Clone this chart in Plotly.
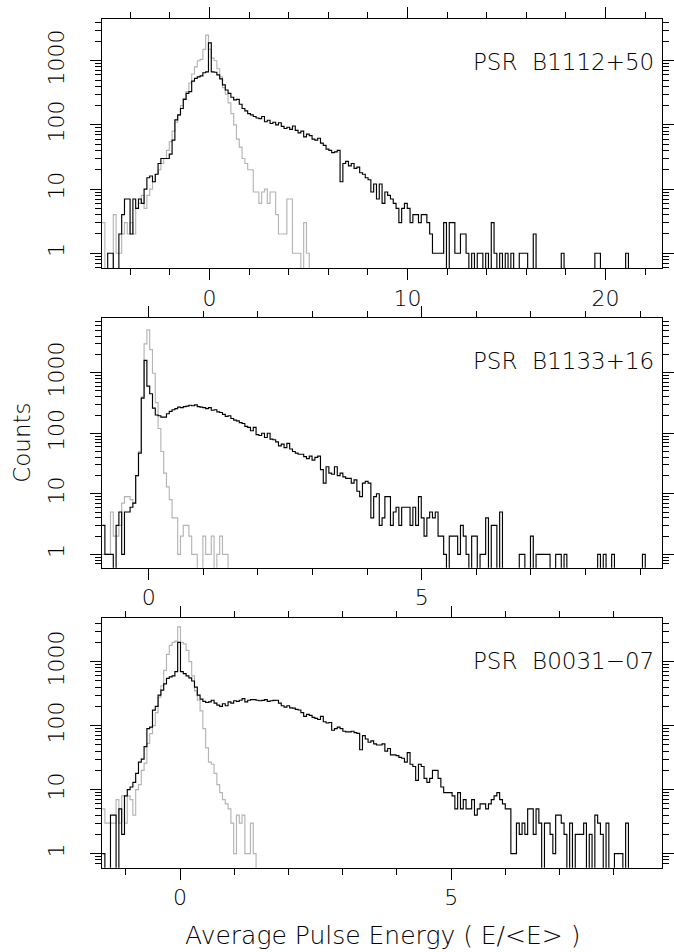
import plotly.graph_objects as go

# ---------------- data (counts per bin, 200 bins per panel) ----------------
P1_START, P1_STOP = -5.42, 22.85
P2_START, P2_STOP = -0.853, 9.40
P3_START, P3_STOP = -1.439, 8.89

p1_black = [0, 0, 1, 1, 0, 0, 2, 4, 7, 7, 2, 7, 5, 7, 6, 10, 15, 16, 13, 17,
            25, 30, 30, 30, 35, 58, 120, 143, 180, 250, 310, 330, 480, 530, 560, 580, 650, 670, 1900, 670,
            660, 600, 520, 420, 350, 310, 270, 245, 250, 210, 180, 165, 150, 143, 135, 128, 125, 135, 112, 118,
            105, 110, 100, 108, 95, 88, 92, 85, 96, 82, 75, 80, 65, 72, 68, 60, 58, 62, 52, 48,
            42, 40, 37, 38, 40, 13, 25, 27, 23, 25, 21, 22, 18, 17, 15, 14, 9, 12, 7, 12,
            6, 9, 8, 7, 6, 5, 3, 5, 6, 5, 3, 4, 4, 3, 4, 4, 3, 2, 1, 1,
            1, 1, 3, 0, 3, 3, 1, 1, 2, 2, 1, 0, 1, 0, 1, 1, 0, 1, 0, 3,
            1, 0, 1, 0, 1, 0, 1, 0, 0, 1, 1, 1, 0, 0, 2, 0, 0, 0, 0, 0,
            0, 0, 0, 0, 1, 0, 0, 0, 0, 0, 0, 0, 0, 0, 0, 0, 1, 1, 0, 0,
            0, 0, 0, 0, 0, 0, 0, 1, 0, 0, 0, 0, 0, 0, 0, 0, 0, 0, 0, 0]
p1_gray = [3, 0, 0, 0, 4, 1, 1, 2, 3, 2, 3, 2, 5, 6, 8, 5, 8, 10, 13, 17,
           20, 25, 30, 40, 55, 80, 110, 140, 200, 260, 330, 450, 620, 800, 1000, 1050, 1500, 2500, 1500, 1100,
           1000, 750, 560, 380, 300, 220, 150, 100, 60, 45, 30, 25, 20, 20, 9, 9, 6, 9, 10, 6,
           9, 9, 4, 2, 2, 2, 7, 7, 1, 1, 1, 0, 3, 1, 0, 0, 0, 0, 0, 0,
           0, 0, 0, 0, 0, 0, 0, 0, 0, 0, 0, 0, 0, 0, 0, 0, 0, 0, 0, 0,
           0, 0, 0, 0, 0, 0, 0, 0, 0, 0, 0, 0, 0, 0, 0, 0, 0, 0, 0, 0,
           0, 0, 0, 0, 0, 0, 0, 0, 0, 0, 0, 0, 0, 0, 0, 0, 0, 0, 0, 0,
           0, 0, 0, 0, 0, 0, 0, 0, 0, 0, 0, 0, 0, 0, 0, 0, 0, 0, 0, 0,
           0, 0, 0, 0, 0, 0, 0, 0, 0, 0, 0, 0, 0, 0, 0, 0, 0, 0, 0, 0,
           0, 0, 0, 0, 0, 0, 0, 0, 0, 0, 0, 0, 0, 0, 0, 0, 0, 0, 0, 0]

p2_black = [3, 1, 1, 1, 0, 3, 5, 1, 5, 5, 6, 7, 20, 47, 380, 1600, 600, 450, 260, 200,
            195, 185, 185, 210, 230, 245, 255, 270, 265, 275, 280, 290, 285, 295, 275, 270, 265, 255, 265, 240,
            245, 225, 220, 205, 190, 195, 175, 165, 160, 150, 145, 130, 125, 110, 125, 95, 92, 100, 85, 100,
            80, 78, 72, 62, 66, 58, 68, 55, 50, 47, 45, 45, 41, 38, 42, 36, 40, 42, 25, 15,
            28, 22, 21, 28, 20, 22, 19, 18, 18, 15, 17, 11, 9, 15, 16, 15, 4, 9, 10, 3,
            4, 9, 9, 3, 5, 6, 3, 6, 6, 6, 3, 6, 3, 9, 4, 2, 4, 5, 4, 5,
            2, 2, 1, 0, 2, 2, 2, 1, 3, 2, 1, 0, 2, 2, 0, 1, 1, 4, 0, 3,
            3, 0, 5, 0, 0, 0, 0, 0, 0, 1, 1, 0, 0, 2, 0, 1, 1, 1, 1, 1,
            0, 0, 1, 1, 0, 1, 0, 0, 0, 0, 0, 0, 0, 0, 0, 0, 0, 1, 0, 1,
            0, 0, 1, 0, 0, 0, 0, 0, 0, 0, 0, 0, 0, 1, 0, 0, 0, 0, 0, 0]
p2_gray = [1, 1, 1, 5, 2, 2, 3, 7, 9, 9, 8, 7, 20, 50, 400, 3000, 5100, 2400, 980, 320,
           120, 50, 22, 13, 8, 4, 4, 1, 2, 3, 3, 2, 1, 1, 0, 0, 2, 1, 1, 2,
           0, 1, 2, 1, 1, 0, 0, 0, 0, 0, 0, 0, 0, 0, 0, 0, 0, 0, 0, 0,
           0, 0, 0, 0, 0, 0, 0, 0, 0, 0, 0, 0, 0, 0, 0, 0, 0, 0, 0, 0,
           0, 0, 0, 0, 0, 0, 0, 0, 0, 0, 0, 0, 0, 0, 0, 0, 0, 0, 0, 0,
           0, 0, 0, 0, 0, 0, 0, 0, 0, 0, 0, 0, 0, 0, 0, 0, 0, 0, 0, 0,
           0, 0, 0, 0, 0, 0, 0, 0, 0, 0, 0, 0, 0, 0, 0, 0, 0, 0, 0, 0,
           0, 0, 0, 0, 0, 0, 0, 0, 0, 0, 0, 0, 0, 0, 0, 0, 0, 0, 0, 0,
           0, 0, 0, 0, 0, 0, 0, 0, 0, 0, 0, 0, 0, 0, 0, 0, 0, 0, 0, 0,
           0, 0, 0, 0, 0, 0, 0, 0, 0, 0, 0, 0, 0, 0, 0, 0, 0, 0, 0, 0]

p3_black = [1, 0, 0, 4, 4, 0, 5, 2, 8, 10, 11, 13, 18, 27, 30, 47, 90, 95, 175, 200,
            300, 360, 450, 550, 580, 600, 700, 2000, 700, 650, 600, 560, 500, 400, 300, 260, 240, 230, 235, 250,
            225, 210, 200, 220, 205, 235, 225, 245, 240, 250, 265, 235, 250, 255, 255, 250, 245, 248, 255, 240,
            245, 248, 250, 225, 205, 195, 205, 190, 188, 180, 176, 160, 140, 150, 145, 135, 130, 125, 140, 115,
            110, 112, 85, 90, 95, 90, 82, 80, 80, 82, 78, 76, 42, 70, 62, 55, 58, 52, 50, 50,
            52, 40, 44, 35, 35, 34, 32, 31, 27, 38, 25, 23, 14, 25, 23, 15, 13, 15, 20, 20,
            15, 11, 9, 9, 9, 8, 5, 9, 5, 7, 5, 5, 7, 4, 5, 6, 6, 5, 6, 7,
            8, 9, 7, 6, 5, 5, 1, 1, 3, 2, 3, 2, 5, 5, 2, 5, 3, 0, 3, 3,
            2, 1, 4, 4, 3, 2, 0, 3, 0, 2, 2, 2, 3, 0, 2, 0, 4, 3, 2, 0,
            3, 0, 0, 1, 1, 1, 0, 3, 0, 0, 0, 0, 0, 0, 0, 0, 0, 0, 0, 0]
p3_gray = [5, 3, 3, 3, 3, 7, 3, 8, 3, 8, 7, 4, 10, 12, 20, 26, 53, 75, 100, 160,
           280, 420, 730, 1300, 1800, 2000, 2100, 3500, 2000, 1900, 1500, 1000, 600, 350, 250, 170, 90, 45, 27, 25,
           18, 12, 9, 7, 6, 5, 3, 1, 4, 3, 4, 1, 1, 3, 1, 0, 0, 0, 0, 0,
           0, 0, 0, 0, 0, 0, 0, 0, 0, 0, 0, 0, 0, 0, 0, 0, 0, 0, 0, 0,
           0, 0, 0, 0, 0, 0, 0, 0, 0, 0, 0, 0, 0, 0, 0, 0, 0, 0, 0, 0,
           0, 0, 0, 0, 0, 0, 0, 0, 0, 0, 0, 0, 0, 0, 0, 0, 0, 0, 0, 0,
           0, 0, 0, 0, 0, 0, 0, 0, 0, 0, 0, 0, 0, 0, 0, 0, 0, 0, 0, 0,
           0, 0, 0, 0, 0, 0, 0, 0, 0, 0, 0, 0, 0, 0, 0, 0, 0, 0, 0, 0,
           0, 0, 0, 0, 0, 0, 0, 0, 0, 0, 0, 0, 0, 0, 0, 0, 0, 0, 0, 0,
           0, 0, 0, 0, 0, 0, 0, 0, 0, 0, 0, 0, 0, 0, 0, 0, 0, 0, 0, 0]

PULSARS = ["PSR\u00a0 B1112+50", "PSR\u00a0 B1133+16", "PSR\u00a0 B0031\u221207"]
X_TITLE = "Average Pulse Energy ( E/<E> )"
Y_TITLE = "Counts"

# ---------------- figure ----------------
W, H = 674, 952
FONT = "DejaVu Sans, Liberation Sans, sans-serif"
TXT = "#000000"
WEIGHT = 200


def step_xy(start, stop, counts):
    n = len(counts)
    w = (stop - start) / n
    xs = [start + w * i for i in range(n + 1)]
    ys = [c if c > 0 else 0.01 for c in counts] + [counts[-1] if counts[-1] > 0 else 0.01]
    return xs, ys


panels = [
    (P1_START, P1_STOP, p1_black, p1_gray, (-0.234, 3.645), 10, 2, (19.3, 268.3)),
    (P2_START, P2_STOP, p2_black, p2_gray, (-0.221, 3.899), 5, 1, (318.3, 567.7)),
    (P3_START, P3_STOP, p3_black, p3_gray, (-0.219, 3.678), 5, 1, (618.3, 867.7)),
]

fig = go.Figure()
layout = dict(
    width=W, height=H, margin=dict(l=0, r=0, t=0, b=0),
    paper_bgcolor="white", plot_bgcolor="white", showlegend=False,
    font=dict(family=FONT, size=22, color=TXT, weight=WEIGHT),
)
XL, XR = 103, 668
for k, (x0, x1, blk, gry, yr, dmaj, dmin, (ytop, ybot)) in enumerate(panels):
    sfx = "" if k == 0 else str(k + 1)
    xa, ya = "x" + sfx, "y" + sfx
    gx, gy = step_xy(x0, x1, gry)
    bx, by = step_xy(x0, x1, blk)
    fig.add_trace(go.Scatter(x=gx, y=gy, mode="lines", line=dict(color="#b4b4b4", width=1.15, shape="hv"),
                             xaxis=xa, yaxis=ya, hoverinfo="skip"))
    fig.add_trace(go.Scatter(x=bx, y=by, mode="lines", line=dict(color="#000000", width=1.15, shape="hv"),
                             xaxis=xa, yaxis=ya, hoverinfo="skip"))
    layout["xaxis" + sfx] = dict(
        domain=[XL / W, XR / W], range=[x0, x1], anchor=ya,
        showline=True, linecolor="#000", linewidth=1, mirror="ticks",
        ticks="outside", ticklen=11, tickwidth=1, tickcolor="#000",
        tickmode="linear", tick0=0, dtick=dmaj,
        minor=dict(ticks="outside", ticklen=6, tickwidth=1, tickcolor="#000", dtick=dmin, tick0=0, showgrid=False),
        showgrid=False, zeroline=False, ticklabelstandoff=-1,
        tickfont=dict(family=FONT, size=22, color=TXT, weight=WEIGHT),
    )
    layout["yaxis" + sfx] = dict(
        domain=[1 - ybot / H, 1 - ytop / H], type="log", range=list(yr), anchor=xa,
        showline=True, linecolor="#000", linewidth=1, mirror="ticks",
        ticks="outside", ticklen=11, tickwidth=1, tickcolor="#000",
        tickmode="linear", tick0=0, dtick=1, tickangle=-90,
        minor=dict(ticks="outside", ticklen=6, tickwidth=1, tickcolor="#000", dtick="D1", showgrid=False),
        showgrid=False, zeroline=False, ticklabelstandoff=17,
        tickfont=dict(family=FONT, size=22, color=TXT, weight=WEIGHT),
    )

annots = []
label_y = [62, 361, 661]
for name, yc in zip(PULSARS, label_y):
    annots.append(dict(text=name, xref="paper", yref="paper", x=662 / W, y=1 - yc / H,
                       xanchor="right", yanchor="middle", showarrow=False,
                       font=dict(family=FONT, size=23, color=TXT, weight=WEIGHT)))
annots.append(dict(text=Y_TITLE, xref="paper", yref="paper", x=22 / W, y=1 - 443 / H,
                   xanchor="center", yanchor="middle", textangle=-90, showarrow=False,
                   font=dict(family=FONT, size=23, color=TXT, weight=WEIGHT)))
annots.append(dict(text=X_TITLE, xref="paper", yref="paper", x=385.5 / W, y=1 - 935 / H,
                   xanchor="center", yanchor="middle", showarrow=False,
                   font=dict(family=FONT, size=25, color=TXT, weight=WEIGHT)))
layout["annotations"] = annots
fig.update_layout(**layout)
fig.write_html("out.html")
